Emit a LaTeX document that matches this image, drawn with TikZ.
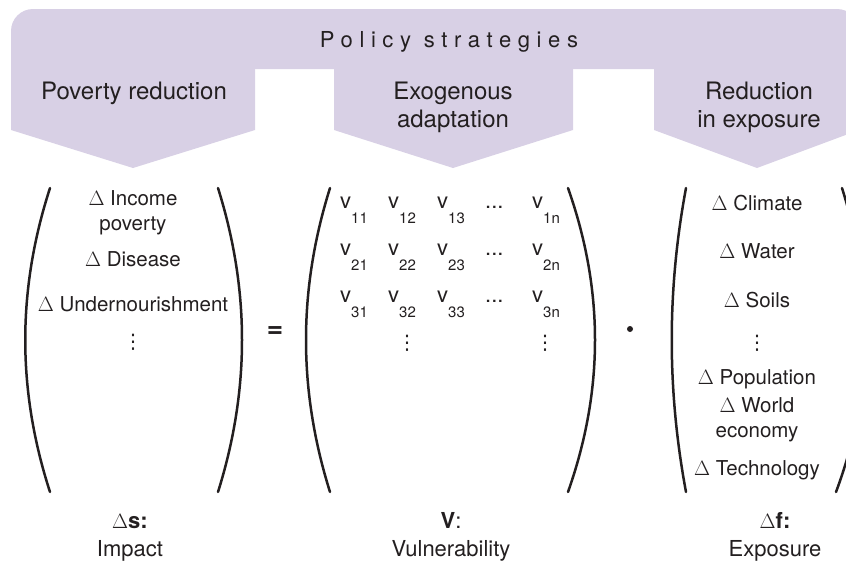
\documentclass[tikz,border=0pt]{standalone}
\usepackage{fontspec}
\setmainfont{TeX Gyre Heros}
\newfontfamily\headfont[LetterSpace=30]{TeX Gyre Heros}
\newfontfamily\symfont{DejaVu Sans}
\usetikzlibrary{positioning}

\begin{document}
\begin{tikzpicture}[
  x=1pt, y=-1pt,
  % --- shape and text styles ---
  band/.style={fill=lilac, draw=none},
  chev/.style={font=\fontsize{24}{28}\selectfont, align=center,
               text=ink, anchor=base, inner sep=0pt},
  item/.style={font=\fontsize{20.5}{24.5}\selectfont, align=center,
               text=ink, anchor=base, inner sep=0pt},
  ent/.style={font=\fontsize{22}{24}\selectfont, text=ink,
              anchor=base west, inner sep=0pt},
  vdot/.style={font=\symfont\fontsize{20}{20}\selectfont, text=ink,
               inner sep=0pt},
  paren/.style={ink, line width=2.5pt, line cap=round},
  capt/.style={font=\fontsize{22}{28}\selectfont, align=center,
               text=ink, anchor=base, inner sep=0pt},
]
  % --- Colours ---
  \definecolor{lilac}{RGB}{216,208,229}
  \definecolor{ink}{RGB}{35,31,32}

  % matrix entry: v with a low subscript
  \def\ve#1{v\raisebox{-15pt}{\fontsize{15}{15}\selectfont #1}}

  \useasboundingbox (0,0) rectangle (846,563);
  \clip (0,0) rectangle (846,563);

  % --- Policy band and arrows ---
  \fill[band, rounded corners=22pt] (11,9) rectangle (859,69);
  \fill[band] (11,40) -- (255,40) -- (255,130) -- (133,168) -- (11,130) -- cycle;
  \fill[band] (334,40) -- (573,40) -- (573,130) -- (453,168) -- (334,130) -- cycle;
  \fill[band] (654,40) -- (859,40) -- (859,130) -- (757,168) -- (654,130) -- cycle;

  % (multi-line nodes sit on the baseline of their last line)
  \node[font=\headfont\fontsize{22}{22}\selectfont, text=ink, anchor=base,
        inner sep=0pt] (title) at (449,47) {Policy strategies};
  \node[chev] (povr) at (134,99) {Poverty reduction};
  \node[chev] (exad) at (453,127) {Exogenous\\adaptation};
  \node[chev] (redx) at (759,127) {Reduction\\in exposure};

  % --- Impact vector ---
  \draw[paren] (50,188) .. controls (17,290) and (17,390) .. (50,492);
  \draw[paren] (218,188) .. controls (250,290) and (250,390) .. (218,492);
  \node[item] (s1) at (133,230) {$\Delta$ Income\\poverty};
  \node[item] (s2) at (133,266) {$\Delta$ Disease};
  \node[item] (s3) at (133,311) {$\Delta$ Undernourishment};
  \node[vdot] (s4) at (133,342) {⋮};

  \node[font=\bfseries\fontsize{28}{28}\selectfont, text=ink] (eq) at (275,332) {=};

  % --- Vulnerability matrix ---
  \draw[paren] (330,188) .. controls (298,290) and (298,390) .. (330,492);
  \draw[paren] (568,188) .. controls (604,290) and (604,390) .. (568,492);
  % row 1
  \node[ent] (v11) at (340,208) {\ve{11}};
  \node[ent] (v12) at (388,208) {\ve{12}};
  \node[ent] (v13) at (437,208) {\ve{13}};
  \node[ent] (h1)  at (485,208) {...};
  \node[ent] (v1n) at (532,208) {\ve{1n}};
  % row 2
  \node[ent] (v21) at (340,255) {\ve{21}};
  \node[ent] (v22) at (388,255) {\ve{22}};
  \node[ent] (v23) at (437,255) {\ve{23}};
  \node[ent] (h2)  at (485,255) {...};
  \node[ent] (v2n) at (532,255) {\ve{2n}};
  % row 3
  \node[ent] (v31) at (340,302) {\ve{31}};
  \node[ent] (v32) at (388,302) {\ve{32}};
  \node[ent] (v33) at (437,302) {\ve{33}};
  \node[ent] (h3)  at (485,302) {...};
  \node[ent] (v3n) at (532,302) {\ve{3n}};
  % column dots
  \node[vdot] (c2) at (407,343) {⋮};
  \node[vdot] (cn) at (545,343) {⋮};

  \node[circle, fill=ink, inner sep=0pt, minimum size=6pt] (dot) at (630,329) {};

  % --- Exposure vector ---
  \draw[paren] (686,188) .. controls (667,290) and (667,390) .. (686,492);
  \draw[paren] (842,188) .. controls (874,290) and (874,390) .. (836,492);
  \node[item] (f1) at (757,210) {$\Delta$ Climate};
  \node[item] (f2) at (757,258) {$\Delta$ Water};
  \node[item] (f3) at (757,307) {$\Delta$ Soils};
  \node[vdot] (f4) at (757,343) {⋮};
  \node[item] (f5) at (757,384) {$\Delta$ Population};
  \node[item] (f6) at (757,437) {$\Delta$ World\\economy};
  \node[item] (f7) at (757,475) {$\Delta$ Technology};

  % --- Captions ---
  \node[capt] (sc) at (130,556) {$\Delta$\textbf{s:}\\Impact};
  \node[capt] (vc) at (451,556) {\textbf{V}:\\Vulnerability};
  \node[capt] (fc) at (775,556) {$\Delta$\textbf{f:}\\Exposure};
\end{tikzpicture}
\end{document}
